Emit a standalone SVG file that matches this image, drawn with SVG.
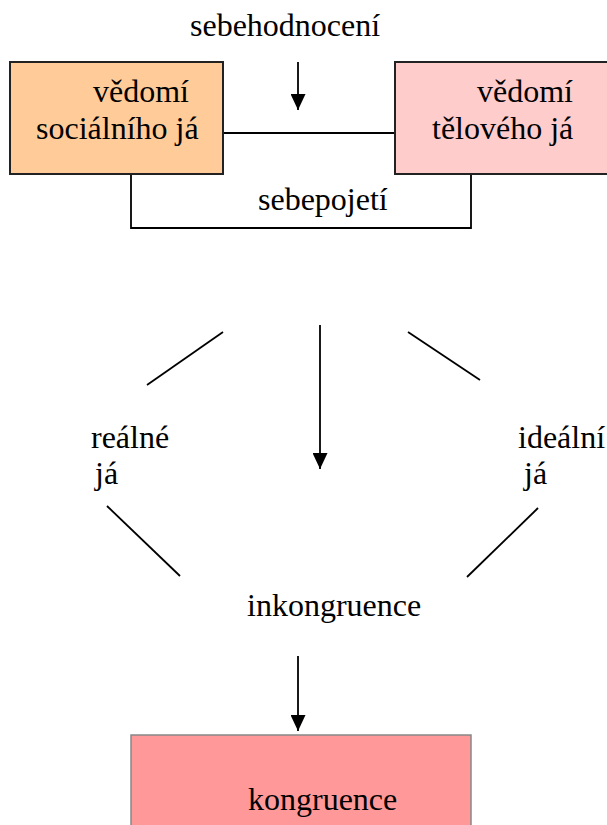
<svg xmlns="http://www.w3.org/2000/svg" width="607" height="825" viewBox="0 0 607 825">
  <defs>
    <marker id="arrow" markerWidth="16" markerHeight="15" refX="16" refY="7.5" orient="auto" markerUnits="userSpaceOnUse" viewBox="0 0 16 15">
      <path d="M0,0 L16,7.5 L0,15 Z" fill="#000"/>
    </marker>
    <style>
      .edge { stroke: #000; stroke-width: 1.8; fill: none; }
    </style>
  </defs>

  <rect width="607" height="825" fill="#fff"/>

  <!-- connectors -->
  <g id="connectors">
    <line class="edge" x1="298" y1="62" x2="298" y2="110" marker-end="url(#arrow)"/>
    <line class="edge" x1="223" y1="133" x2="395" y2="133"/>
    <polyline class="edge" points="131,175 131,228 471,228 471,175"/>
    <line class="edge" x1="223" y1="332" x2="147" y2="385"/>
    <line class="edge" x1="320" y1="325" x2="320" y2="469" marker-end="url(#arrow)"/>
    <line class="edge" x1="408" y1="332" x2="480" y2="380"/>
    <line class="edge" x1="107" y1="506" x2="180" y2="576"/>
    <line class="edge" x1="538" y1="508" x2="467" y2="577"/>
    <line class="edge" x1="298" y1="656" x2="298" y2="731" marker-end="url(#arrow)"/>
  </g>

  <g font-family="'Liberation Serif', 'DejaVu Serif', serif" font-size="32" fill="#000">
    <g id="sebehodnoceni">
      <text x="190" y="36">sebehodnocení</text>
    </g>

    <g id="socialni-ja">
      <rect x="10" y="62" width="213" height="112" fill="#FFCC99" stroke="#222" stroke-width="2"/>
      <text x="93" y="102">vědomí</text>
      <text x="36" y="139">sociálního já</text>
    </g>

    <g id="telove-ja">
      <rect x="395" y="62" width="220" height="112" fill="#FFCCCC" stroke="#222" stroke-width="2"/>
      <text x="477" y="102">vědomí</text>
      <text x="432" y="139">tělového já</text>
    </g>

    <g id="sebepojeti">
      <text x="258" y="210">sebepojetí</text>
    </g>

    <g id="realne-ja">
      <text x="91" y="448">reálné</text>
      <text x="95" y="484">já</text>
    </g>

    <g id="idealni-ja">
      <text x="518" y="448">ideální</text>
      <text x="524" y="484">já</text>
    </g>

    <g id="inkongruence">
      <text x="247" y="616">inkongruence</text>
    </g>

    <g id="kongruence">
      <rect x="131" y="735" width="340" height="100" fill="#FF9999" stroke="#888" stroke-width="1.5"/>
      <text x="248" y="810">kongruence</text>
    </g>
  </g>
</svg>
